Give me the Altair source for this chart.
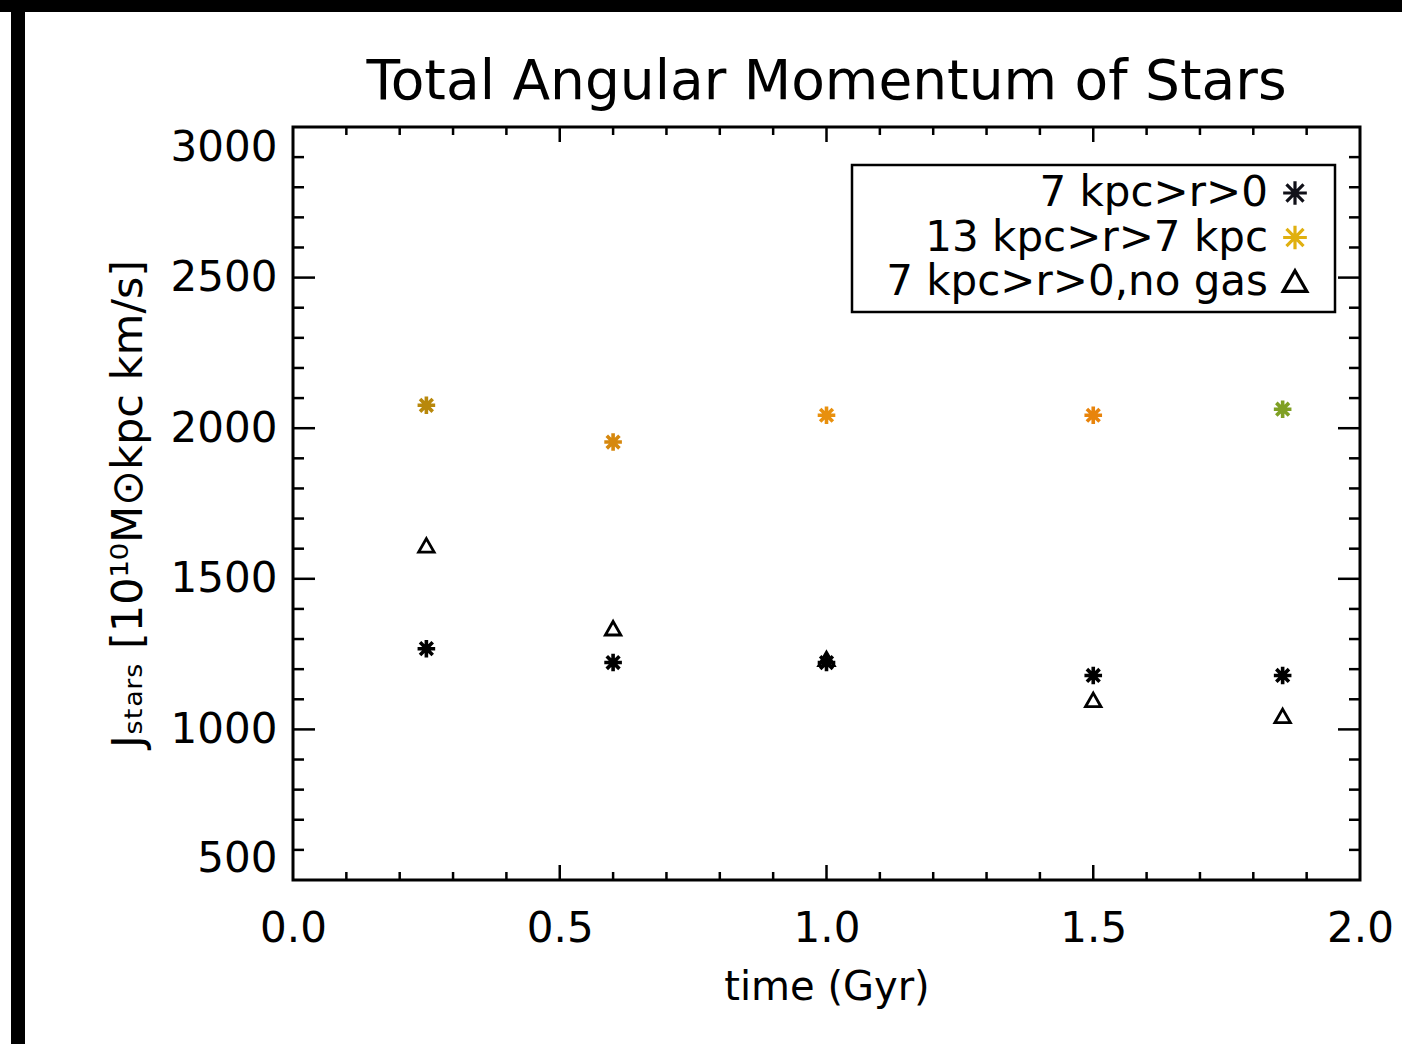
import altair as alt
import pandas as pd

# ---- data ----
time_gyr = [0.25, 0.6, 1.0, 1.5, 1.855]
j_inner = [1268, 1222, 1222, 1179, 1179]          # 7 kpc>r>0 (black asterisks)
j_outer = [2076, 1954, 2043, 2043, 2063]          # 13 kpc>r>7 kpc (orange asterisks)
j_inner_nogas = [1609, 1334, 1232, 1096, 1043]    # 7 kpc>r>0, no gas (triangles)
outer_colors = ["#b8880c", "#d6880e", "#e8900e", "#e8840c", "#7fa024"]

legend_labels = ["7 kpc>r>0", "13 kpc>r>7 kpc", "7 kpc>r>0,no gas"]
legend_colors = ["#101018", "#e0b010", "#000000"]
title_text = ["Total Angular Momentum of Stars"]

x_major = [0.0, 0.5, 1.0, 1.5, 2.0]
x_minor = [0.1, 0.2, 0.3, 0.4, 0.6, 0.7, 0.8, 0.9, 1.1, 1.2, 1.3, 1.4,
           1.6, 1.7, 1.8, 1.9]
y_major = [500, 1000, 1500, 2000, 2500, 3000]
y_minor = [600, 700, 800, 900, 1100, 1200, 1300, 1400, 1600, 1700, 1800, 1900,
           2100, 2200, 2300, 2400, 2600, 2700, 2800, 2900]

# ---- layout / style ----
W, H = 1067, 753
FONT = "DejaVu Sans"
ASTER = "M0,-1V1M-1,0H1M-0.72,-0.72L0.72,0.72M-0.72,0.72L0.72,-0.72"
TRI = "M0,-0.95L1,0.8L-1,0.8Z"

xscale = alt.Scale(domain=[0, 2], nice=False, zero=False)
yscale = alt.Scale(domain=[500, 3000], nice=False, zero=False)

df = pd.DataFrame({
    "t": time_gyr,
    "inner": j_inner,
    "outer": j_outer,
    "nogas": j_inner_nogas,
    "ocol": outer_colors,
})

base = alt.Chart(df)

inner = base.mark_point(shape=ASTER, size=310, filled=False, strokeWidth=3.6,
                        color="black", opacity=1).encode(
    x=alt.X("t:Q", scale=xscale,
            axis=alt.Axis(values=x_major, format=".1f", title="time (Gyr)",
                          grid=False, ticks=False, tickSize=0, domain=False,
                          labelPadding=28, titlePadding=18, labelFlush=False)),
    y=alt.Y("inner:Q", scale=yscale,
            axis=alt.Axis(values=y_major, format="d",
                          title="Jₛₜₐᵣₛ [10¹⁰M⊙kpc km/s]",
                          grid=False, ticks=False, tickSize=0, domain=False,
                          labelPadding=16, titlePadding=20, labelFlush=True,
                          titleFontSize=43)),
)

outer = base.mark_point(shape=ASTER, size=310, filled=False, strokeWidth=3.6,
                        opacity=1).encode(
    x=alt.X("t:Q", scale=xscale),
    y=alt.Y("outer:Q", scale=yscale, axis=None),
    color=alt.Color("ocol:N", scale=None),
)

nogas = base.mark_point(shape=TRI, size=240, filled=False, strokeWidth=2.8,
                        color="black", opacity=1).encode(
    x=alt.X("t:Q", scale=xscale),
    y=alt.Y("nogas:Q", scale=yscale, axis=None),
)

# ---- inward ticks on all four sides ----
xmin_df = pd.DataFrame({"t": x_minor})
xmaj_df = pd.DataFrame({"t": x_major[1:-1]})
ymin_df = pd.DataFrame({"j": y_minor})
ymaj_df = pd.DataFrame({"j": y_major[1:-1]})


def xticks(d, length):
    layers = []
    for y0, y1 in [(H, H - length), (0, length)]:
        layers.append(alt.Chart(d).mark_rule(color="black", strokeWidth=2.5).encode(
            x=alt.X("t:Q", scale=xscale),
            y=alt.value(y0), y2=alt.value(y1)))
    return layers


def yticks(d, length):
    layers = []
    for x0, x1 in [(0, length), (W, W - length)]:
        layers.append(alt.Chart(d).mark_rule(color="black", strokeWidth=2.5).encode(
            y=alt.Y("j:Q", scale=yscale, axis=None),
            x=alt.value(x0), x2=alt.value(x1)))
    return layers


tick_layers = (xticks(xmin_df, 8) + xticks(xmaj_df, 15)
               + yticks(ymin_df, 11) + yticks(ymaj_df, 22))

# ---- legend box ----
box_df = pd.DataFrame({"box": [1]})
legend_box = alt.Chart(box_df).mark_rect(fill="white", stroke="black",
                                         strokeWidth=2.5).encode(
    x=alt.value(559), x2=alt.value(1042), y=alt.value(38), y2=alt.value(185))

leg_df = pd.DataFrame({"label": legend_labels, "col": legend_colors})
leg_y = alt.Y("label:N", sort=legend_labels,
              scale=alt.Scale(range=[66, 155], padding=0), axis=None)

legend_text = alt.Chart(leg_df).mark_text(align="right", baseline="middle",
                                          fontSize=42, font=FONT,
                                          color="black").encode(
    x=alt.value(975), y=leg_y, text="label:N")

legend_sym = alt.Chart(leg_df).mark_point(filled=False, strokeWidth=3.2,
                                          size=560, opacity=1).encode(
    x=alt.value(1002), y=leg_y,
    shape=alt.Shape("label:N",
                    scale=alt.Scale(domain=legend_labels, range=[ASTER, ASTER, TRI]),
                    legend=None),
    color=alt.Color("col:N", scale=None),
)

# ---- title as text ----
title_df = pd.DataFrame({"title": title_text})
title = alt.Chart(title_df).mark_text(align="center", baseline="middle",
                                      fontSize=55, font=FONT,
                                      color="black").encode(
    x=alt.value(W / 2), y=alt.value(-45), text="title:N")

# ---- black frame bands of the scanned picture ----
bands = [
    alt.Chart(box_df).mark_rect(color="black").encode(
        x=alt.value(-293), x2=alt.value(1109), y=alt.value(-127), y2=alt.value(-115)),
    alt.Chart(box_df).mark_rect(color="black").encode(
        x=alt.value(-282), x2=alt.value(-268), y=alt.value(-127), y2=alt.value(917)),
]

chart = alt.layer(
    inner, *tick_layers, outer, nogas, legend_box, legend_text, legend_sym,
    title, *bands
).resolve_scale(
    y="independent"
).properties(
    width=W, height=H,
    autosize=alt.AutoSizeParams(type="none"),
    padding={"left": 293, "top": 127, "right": 42, "bottom": 164},
    background="white",
).configure_view(
    stroke="black", strokeWidth=3
).configure_axis(
    labelFont=FONT, titleFont=FONT, labelFontSize=42, titleFontSize=40,
    labelColor="black", titleColor="black", titleFontWeight="normal",
)

chart.save("out.html", embed_options={"renderer": "svg", "actions": False})
